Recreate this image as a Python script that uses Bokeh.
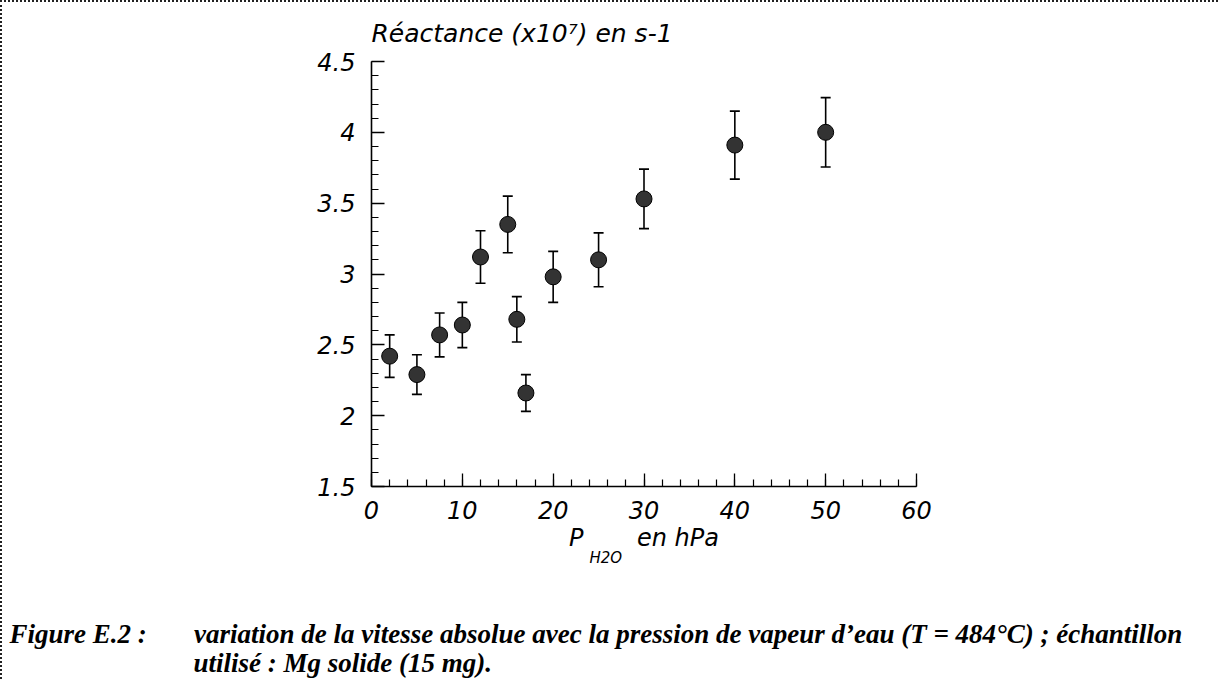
from bokeh.plotting import figure
from bokeh.models import (Range1d, FixedTicker, NumeralTickFormatter, Whisker,
                          TeeHead, ColumnDataSource, Title)
from bokeh.embed import file_html
from bokeh.resources import INLINE

# ---- data ----
p_h2o = [2, 5, 7.5, 10, 12, 15, 16, 17, 20, 25, 30, 40, 50]
reactance = [2.42, 2.29, 2.57, 2.64, 3.12, 3.35, 2.68, 2.16, 2.98, 3.10, 3.53, 3.91, 4.00]
err = [0.15, 0.14, 0.155, 0.16, 0.185, 0.20, 0.16, 0.13, 0.18, 0.19, 0.21, 0.24, 0.245]
x_ticks = [0, 10, 20, 30, 40, 50, 60]
y_ticks = [1.5, 2, 2.5, 3, 3.5, 4, 4.5]

src = ColumnDataSource(dict(
    x=p_h2o, y=reactance,
    lower=[v - e for v, e in zip(reactance, err)],
    upper=[v + e for v, e in zip(reactance, err)],
))

NB = "\u00a0"
FONT = "DejaVu Sans"
CAP = "Liberation Serif"

W, H = 1218, 679
p = figure(width=W, height=H, x_range=Range1d(0, 60), y_range=Range1d(1.5, 4.5),
           output_backend="svg", toolbar_location=None,
           min_border_left=369, min_border_right=304,
           min_border_top=58, min_border_bottom=195)
p.grid.visible = False
p.outline_line_color = None
p.background_fill_color = "white"
p.border_fill_color = "white"
p.styles = {"border-top": "2px dotted #222", "border-left": "2px dotted #222"}

# y-axis title written above the axis
p.title.text = "Réactance (x10⁷) en s-1"
p.title.align = "left"
p.title.offset = 0
p.title.standoff = 28
p.title.text_font = FONT
p.title.text_font_style = "italic"
p.title.text_font_size = "25px"
p.title.text_color = "black"

p.xaxis.ticker = FixedTicker(ticks=x_ticks, minor_ticks=[i * 2 for i in range(31)])
p.yaxis.ticker = FixedTicker(ticks=y_ticks, minor_ticks=[round(1.5 + i * 0.1, 2) for i in range(31)])
p.yaxis.formatter = NumeralTickFormatter(format="0.[0]")
for ax in (p.xaxis, p.yaxis):
    ax.axis_line_width = 1.6
    ax.axis_line_color = "black"
    ax.major_tick_in = 13
    ax.major_tick_out = 0
    ax.minor_tick_in = 7
    ax.minor_tick_out = 0
    ax.major_tick_line_width = 1.3
    ax.minor_tick_line_width = 1.2
    ax.major_tick_line_color = "black"
    ax.minor_tick_line_color = "black"
    ax.major_label_text_font = FONT
    ax.major_label_text_font_style = "italic"
    ax.major_label_text_font_size = "24px"
    ax.major_label_text_color = "black"
p.xaxis.major_label_standoff = 14
p.yaxis.major_label_standoff = 16

# x-axis title (subscript added as a separate row below)
p.xaxis.axis_label = "P" + NB * 7 + "en" + NB + "hPa"
p.xaxis.axis_label_standoff = 2
p.xaxis.axis_label_text_font = FONT
p.xaxis.axis_label_text_font_style = "italic"
p.xaxis.axis_label_text_font_size = "24px"
p.xaxis.axis_label_text_color = "black"

def row(text, offset, standoff, size, font=FONT, style="italic"):
    t = Title(text=text, align="left", offset=offset, standoff=standoff,
              text_font=font, text_font_style=style, text_font_size=size,
              text_color="black")
    p.add_layout(t, "below")

row("H2O", 218, -16, "15px")
row(NB, 0, 45, "10px")
row("Figure E.2 :" + NB * 7 + "variation de la vitesse absolue avec la pression de vapeur d’eau (T = 484°C) ; échantillon",
    -362, 0, "27px", CAP, "bold italic")
row("utilisé : Mg solide (15 mg).", -178, -5, "27px", CAP, "bold italic")

p.add_layout(Whisker(source=src, base="x", upper="upper", lower="lower",
                     line_color="black", line_width=1.6,
                     upper_head=TeeHead(size=10, line_width=1.6, line_color="black"),
                     lower_head=TeeHead(size=10, line_width=1.6, line_color="black")))
p.scatter("x", "y", source=src, size=16, fill_color="#333333",
          line_color="black", line_width=1)

open("out.html", "w").write(file_html(p, INLINE))
